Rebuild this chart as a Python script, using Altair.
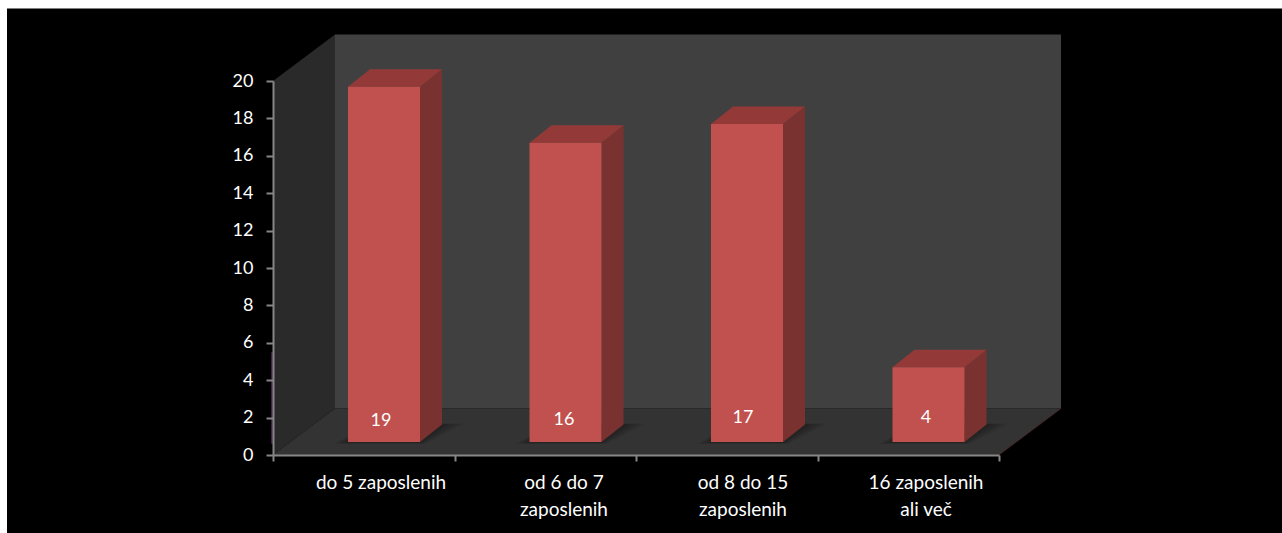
import altair as alt
import pandas as pd

# Chart values
categories = ["do 5 zaposlenih", "od 6 do 7\nzaposlenih", "od 8 do 15\nzaposlenih", "16 zaposlenih\nali več"]
values = [19, 16, 17, 4]
y_ticks = list(range(0, 21, 2))
x_ticks = [0, 1, 2, 3, 4]

# Projection of the 3D box, expressed in axis units
PX_X = 181.5   # pixels per category
PX_Y = 18.7    # pixels per value unit
W, H = 726, 374
WALL_DX, WALL_DY = 62 / PX_X, 46.5 / PX_Y
BAR_X0 = (348 - 273) / PX_X
BAR_W = 72 / PX_X
BAR_BASE = 13 / PX_Y
BAR_DX, BAR_DY = 22 / PX_X, 17.5 / PX_Y
LABEL_X = [(381 - 273) / PX_X, (564 - 273 - PX_X) / PX_X, (743 - 273 - 2 * PX_X) / PX_X, (926 - 273 - 3 * PX_X) / PX_X]
VALUE_Y = [34.5 / PX_Y, 35.5 / PX_Y, 37 / PX_Y, 37 / PX_Y]

x_scale = alt.Scale(domain=[0, 4], nice=False, zero=False)
y_scale = alt.Scale(domain=[0, 20], nice=False, zero=False)
x_axis = alt.Axis(values=x_ticks, title=None, grid=False, labels=False, domainColor="#868686", domainWidth=2,
                  tickColor="#868686", tickWidth=2, tickSize=6, zindex=1)
y_axis = alt.Axis(values=y_ticks, title=None, grid=False, domainColor="#868686", domainWidth=2,
                  tickColor="#868686", tickWidth=2, tickSize=7, labelColor="#ffffff",
                  labelFont="Lato", labelFontSize=18, labelPadding=13, zindex=1)
X = alt.X("x:Q", scale=x_scale, axis=x_axis)
X2 = alt.X2("x2:Q")
Y = alt.Y("y:Q", scale=y_scale, axis=y_axis)
Y2 = alt.Y2("y2:Q")


def rect(rows, color, **kw):
    return alt.Chart(pd.DataFrame(rows)).mark_rect(color=color, clip=False, **kw).encode(x=X, x2=X2, y=Y, y2=Y2)


def vface(rows, color, **kw):
    # Face whose left and right edges are vertical
    return alt.Chart(pd.DataFrame(rows)).mark_area(color=color, clip=False, orient="vertical", **kw).encode(
        x=X, y=Y, y2=Y2)


def hface(rows, color, **kw):
    # Face whose top and bottom edges are horizontal
    return alt.Chart(pd.DataFrame(rows)).mark_area(color=color, clip=False, orient="horizontal", **kw).encode(
        y=Y, x=X, x2=X2)


# Canvas: page-wide black panel
black = rect([{"x": -266 / PX_X, "x2": 1040 / PX_X, "y": -90 / PX_Y, "y2": 446.5 / PX_Y}], "#000000")

back_wall = rect([{"x": WALL_DX, "x2": 4 + WALL_DX, "y": WALL_DY, "y2": 20 + WALL_DY}], "#404040")
left_wall = vface([{"x": 0, "y": 0, "y2": 20},
                   {"x": WALL_DX, "y": WALL_DY, "y2": 20 + WALL_DY}], "#2a2a2a")
floor = hface([{"y": 0, "x": 0, "x2": 4},
               {"y": WALL_DY, "x": WALL_DX, "x2": 4 + WALL_DX}], "#333333")
floor_edge = alt.Chart(pd.DataFrame([{"x": 4, "y": 0}, {"x": 4 + WALL_DX, "y": WALL_DY}])).mark_line(
    color="#5a2524", strokeWidth=1, opacity=0.6, clip=False).encode(x=X, y=Y)

# Magenta fringe along the lower part of the value axis
axis_fringe = alt.Chart(pd.DataFrame([{"x": -1 / PX_X, "y": 0.6, "y2": 5.5}])).mark_rule(
    color="#9a4aa8", strokeWidth=1.2, opacity=0.7, clip=False).encode(x=X, y=Y, y2=Y2)

layers = [black, back_wall, left_wall, floor, floor_edge, axis_fringe]

# Soft floor shadow beside each bar, stacked from wide and faint to narrow and dense
for i, v in enumerate(values):
    x0 = i + BAR_X0
    for grow, op in [(1.0, 0.10), (0.75, 0.14), (0.5, 0.18), (0.25, 0.22)]:
        spread = grow * 14 / PX_X
        layers.append(hface([
            {"y": BAR_BASE - grow * 2 / PX_Y, "x": x0 - spread, "x2": x0 + BAR_W + spread * 0.3},
            {"y": BAR_BASE + BAR_DY + grow * 1 / PX_Y, "x": x0 + BAR_DX, "x2": x0 + BAR_W + BAR_DX + spread * 1.6},
        ], "#151515", opacity=op))

# Each bar: right side, top, and front face
for i, v in enumerate(values):
    x0 = i + BAR_X0
    x1 = x0 + BAR_W
    top = BAR_BASE + v
    layers.append(vface([{"x": x1, "y": BAR_BASE, "y2": top},
                         {"x": x1 + BAR_DX, "y": BAR_BASE + BAR_DY, "y2": top + BAR_DY}], "#7a3230"))
    layers.append(hface([{"y": top, "x": x0, "x2": x1},
                         {"y": top + BAR_DY, "x": x0 + BAR_DX, "x2": x1 + BAR_DX}], "#933a38"))
    layers.append(rect([{"x": x0, "x2": x1, "y": BAR_BASE, "y2": top}], "#c1514e"))

# Value labels inside the bars
value_df = pd.DataFrame({
    "x": [i + LABEL_X[i] for i in range(4)],
    "y": VALUE_Y,
    "t": [str(v) for v in values],
})
value_text = alt.Chart(value_df).mark_text(
    color="#ffffff", font="Lato", fontSize=18, clip=False, align="center", baseline="middle"
).encode(x=X, y=Y, text="t:N")

# Category labels below the axis
cat_df = pd.DataFrame({
    "x": [i + LABEL_X[i] for i in range(4)],
    "y": [-(483 - 455.5) / PX_Y] * 4,
    "t": categories,
})
cat_text = alt.Chart(cat_df).mark_text(
    color="#ffffff", font="Lato", fontSize=19, lineBreak="\n", lineHeight=27, clip=False,
    align="center", baseline="middle"
).encode(x=X, y=Y, text="t:N")

chart = alt.layer(*layers, value_text, cat_text).properties(
    width=W, height=H,
    background="#ffffff",
    autosize=alt.AutoSizeParams(type="none"),
    padding={"left": 273, "top": 81, "right": 283, "bottom": 78},
).configure_view(stroke=None)

chart.save("out.html", embed_options={"renderer": "svg", "actions": False})
